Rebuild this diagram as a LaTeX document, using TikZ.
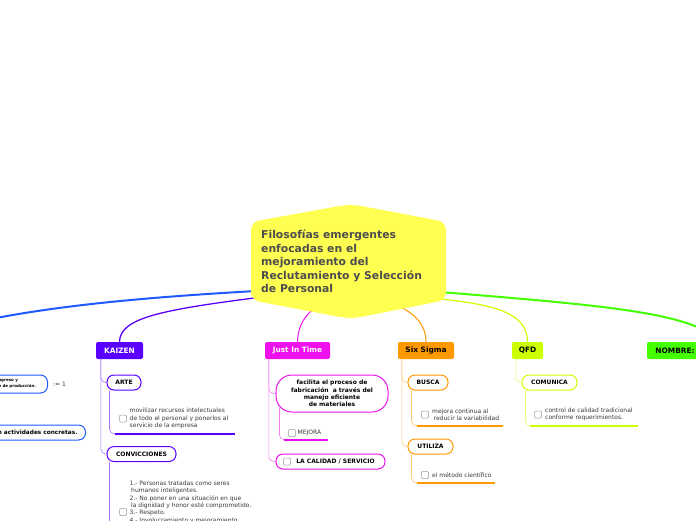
\documentclass[tikz,border=0pt]{standalone}
\usepackage{fontspec}
\setmainfont{DejaVu Sans}
\usetikzlibrary{backgrounds}

\definecolor{cBlue}{HTML}{1E5AFF}
\definecolor{cPurple}{HTML}{5A00FF}
\definecolor{cMagenta}{HTML}{EE11EE}
\definecolor{cOrange}{HTML}{FF9900}
\definecolor{cLime}{HTML}{CCFF00}
\definecolor{cGreen}{HTML}{44FF00}
\definecolor{cYellow}{HTML}{FFFF52}
\definecolor{hubgray}{HTML}{4D4D4D}
\definecolor{leafgray}{HTML}{383838}

\tikzset{
  hubtext/.style={align=left, inner sep=0pt, text=hubgray, font=\bfseries\fontsize{10.8}{13.5}\selectfont},
  topic/.style={rounded corners=2pt, minimum height=17pt, inner sep=0pt, text=white, font=\bfseries\fontsize{7.4}{9}\selectfont},
  sub/.style={draw=#1, line width=1pt, fill=white, rounded corners=7pt, minimum height=15pt, inner sep=0pt, font=\bfseries\fontsize{6}{7.2}\selectfont},
  leaf/.style={align=left, inner sep=0pt, text=leafgray, font=\fontsize{6}{7.4}\selectfont},
  chk/.style={draw=gray!80, fill=white, rounded corners=1pt, minimum size=7pt, inner sep=0pt, line width=0.5pt},
  uline/.style={draw=#1, line width=2.4pt},
  branch/.style={draw=#1!55, line width=0.6pt, rounded corners=5pt}
}

\begin{document}
\begin{tikzpicture}[x=1pt, y=-1pt]
% Page size
\useasboundingbox (0,0) rectangle (696,520);
\clip (0,0) rectangle (696,520);

% Central idea
\node[hubtext, anchor=north west] (hub) at (261,230) {Filosofías emergentes\\enfocadas en el\\mejoramiento del\\Reclutamiento y Selección\\de Personal};

% Main topics
\node[topic, fill=cPurple, minimum width=47pt] (kaizen) at (119.5,350.5) {KAIZEN};
\node[topic, fill=cMagenta, minimum width=65pt] (jit) at (297.5,350.5) {Just In Time};
\node[topic, fill=cOrange, text=black, minimum width=56pt] (six) at (426,350.5) {Six Sigma};
\node[topic, fill=cLime, text=black, minimum width=31pt] (qfd) at (527.5,350.5) {QFD};
\node[topic, fill=cGreen, text=black, minimum width=56pt] (nombre) at (675,350.5) {NOMBRE:};

% Blue topic (off the page on the left)
\node[sub=cBlue, anchor=east, minimum height=18pt, inner xsep=10pt, text width=39pt, align=left, font=\bfseries\fontsize{4}{5.5}\selectfont] (prog) at (48,384) {ogreso y\\e de producción.};
\node[leaf, anchor=west] (progval) at (53,384) {:= 1};
\node[sub=cBlue, anchor=east, inner xsep=8pt, text width=100pt, align=right, font=\bfseries\fontsize{5.8}{7}\selectfont] (activ) at (86,432.5) {n actividades concretas.};

% KAIZEN
\node[sub=cPurple, minimum width=34pt] (arte) at (124,382.5) {ARTE};
\node[leaf, anchor=west] (movil) at (129.5,418.5) {movilizar recursos intelectuales\\de todo el personal y ponerlos al\\servicio de la empresa};
\node[chk] (movilchk) at (123,418.5) {};
\coordinate (movilA) at (115,434);
\coordinate (movilB) at (235,434);
\node[sub=cPurple, minimum width=69pt] (conv) at (141.5,454) {CONVICCIONES};
\node[leaf, anchor=north west] (convtxt) at (129.5,480.5) {1.- Personas tratadas como seres\\\hspace*{1.5pt}humanos inteligentes.\\2.- No poner en una situación en que\\\hspace*{1.5pt}la dignidad y honor esté comprometido.\\3.- Respeto.\\4.- Involucramiento y mejoramiento};
\node[chk] (convchk) at (123,512) {};
\coordinate (convA) at (115,560);

% Just In Time
\node[sub=cMagenta, minimum width=112pt, minimum height=37pt, rounded corners=16pt, align=center] (facil) at (332,393.5) {facilita el proceso de\\fabricación\ \ a través del\\manejo eficiente\\de materiales};
\node[leaf, anchor=west] (mejora) at (297.5,433) {MEJORA};
\node[chk] (mejorachk) at (292,433) {};
\coordinate (mejoraA) at (284,440);
\coordinate (mejoraB) at (328,440);
\node[sub=cMagenta, minimum width=109pt] (calidad) at (330.5,461.5) {\hspace{10pt}LA CALIDAD / SERVICIO};
\node[chk] (calidadchk) at (287,461.5) {};

% Six Sigma
\node[sub=cOrange, minimum width=40pt] (busca) at (428,382.5) {BUSCA};
\node[leaf, anchor=west] (var) at (432,414.5) {mejora continua al\\\hspace*{1.5pt}reducir la variabilidad};
\node[chk] (varchk) at (425,414.5) {};
\coordinate (varA) at (417,426);
\coordinate (varB) at (503,426);
\node[sub=cOrange, minimum width=45pt] (utiliza) at (430.5,446.5) {UTILIZA};
\node[leaf, anchor=west] (metodo) at (432,475) {el método científico};
\node[chk] (metodochk) at (425,475) {};
\coordinate (metodoA) at (417,483);
\coordinate (metodoB) at (495,483);

% QFD
\node[sub=cLime, minimum width=55pt] (comunica) at (549.5,382.5) {COMUNICA};
\node[leaf, anchor=west] (control) at (545,414.5) {control de calidad tradicional\\conforme requerimientos.};
\node[chk] (controlchk) at (538,414.5) {};
\coordinate (controlA) at (530,426);
\coordinate (controlB) at (638,426);

% Underlines
\draw[uline=cPurple] (movilA) -- (movilB);
\draw[uline=cMagenta] (mejoraA) -- (mejoraB);
\draw[uline=cOrange] (varA) -- (varB);
\draw[uline=cOrange] (metodoA) -- (metodoB);
\draw[uline=cLime] (controlA) -- (controlB);

\begin{scope}[on background layer]
\clip (0,0) rectangle (696,520);
% Branch ends on the central idea
\coordinate (hubB) at (256,291);
\coordinate (hubP) at (262,297);
\coordinate (hubM) at (318,305);
\coordinate (hubO) at (396,305);
\coordinate (hubL) at (440,299);
\coordinate (hubG) at (440,292);
\coordinate (offL) at (-14,320);
\coordinate (offR) at (714,336);

% Curved branches
\draw[cBlue, line width=2pt] (hubB) .. controls (150,297) and (60,305) .. (offL);
\draw[cPurple, line width=1.3pt] (hubP) .. controls (160,310) and (120,318) .. (kaizen.north);
\draw[cMagenta, line width=1pt] (hubM) .. controls (305,315) and (298,325) .. (jit.north);
\draw[cOrange, line width=1pt] (hubO) .. controls (415,313) and (426,325) .. (six.north);
\draw[cLime, line width=1.2pt] (hubL) .. controls (500,305) and (527.5,315) .. (qfd.north);
\draw[cGreen, line width=2pt] (hubG) .. controls (600,305) and (680,312) .. (offR);

% Topic to sub-topic lines
\draw[branch=cPurple] ([xshift=5pt]kaizen.south west) |- (arte.west);
\draw[branch=cPurple] ([xshift=5pt]kaizen.south west) |- (conv.west);
\draw[branch=cPurple] ([xshift=3pt]arte.south west) |- (movilA);
\draw[branch=cPurple] ([xshift=3pt]conv.south west) |- (convA);
\draw[branch=cMagenta] ([xshift=4pt]jit.south west) |- (facil.west);
\draw[branch=cMagenta] ([xshift=4pt]jit.south west) |- (calidad.west);
\draw[branch=cMagenta] ([xshift=4pt,yshift=5pt]facil.south west) |- (mejoraA);
\draw[branch=cOrange] ([xshift=4pt]six.south west) |- (busca.west);
\draw[branch=cOrange] ([xshift=4pt]six.south west) |- (utiliza.west);
\draw[branch=cOrange] ([xshift=4pt]busca.south west) |- (varA);
\draw[branch=cOrange] ([xshift=4pt]utiliza.south west) |- (metodoA);
\draw[branch=cLime] ([xshift=4pt]qfd.south west) |- (comunica.west);
\draw[branch=cLime] ([xshift=4pt]comunica.south west) |- (controlA);

% Hexagon behind the central idea
\fill[cYellow, rounded corners=8pt] (251,222) -- (345,205) -- (356,205) -- (446,222) -- (446,300) -- (356,318) -- (345,318) -- (251,300) -- cycle;
\end{scope}
\end{tikzpicture}
\end{document}
